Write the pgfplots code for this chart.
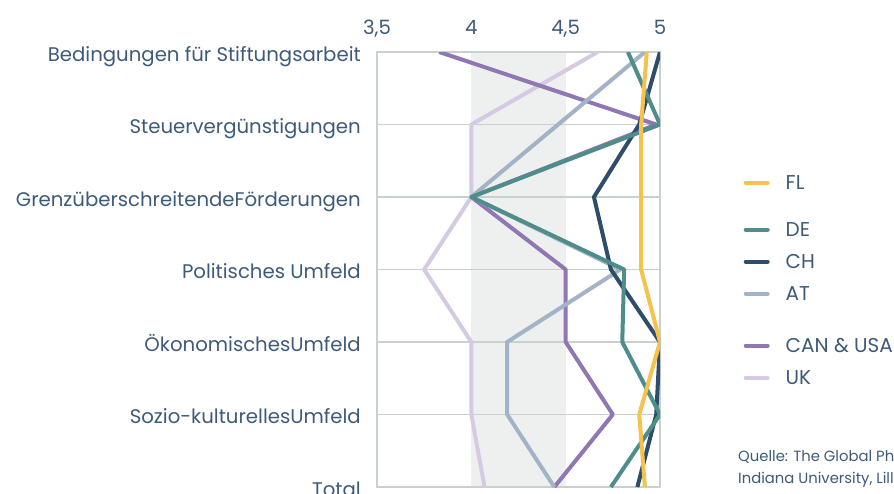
\documentclass[border=0pt]{standalone}
\usepackage{fontspec}
\setmainfont{Poppins}
\usepackage{pgfplots}
\pgfplotsset{compat=1.18}
\definecolor{FLc}{HTML}{F4C24D}
\definecolor{DEc}{HTML}{4E8D89}
\definecolor{CHc}{HTML}{2E4D6B}
\definecolor{ATc}{HTML}{A2B3C7}
\definecolor{CANc}{HTML}{8E77B2}
\definecolor{UKc}{HTML}{D5CAE3}
\definecolor{bandc}{HTML}{EEF0EF}
\definecolor{gridc}{HTML}{C9D1CC}
\definecolor{txt}{HTML}{3D5A78}
\begin{document}
\begin{tikzpicture}
\begin{axis}[
  set layers,
  scale only axis, width=283pt, height=435pt,
  xmin=3.5, xmax=5, ymin=0, ymax=6, y dir=reverse,
  enlargelimits=false, clip=true, clip mode=individual,
  xtick={3.5,4,4.5,5}, xticklabel pos=upper,
  /pgf/number format/use comma, /pgf/number format/assume math mode=true,
  ytick={0,...,6},
  yticklabels={Bedingungen für Stiftungsarbeit, Steuervergünstigungen, GrenzüberschreitendeFörderungen, Politisches Umfeld, ÖkonomischesUmfeld, Sozio-kulturellesUmfeld, Total},
  major tick length=0pt,
  ymajorgrids, grid style={gridc, line width=1.5pt},
  axis line style={gridc, line width=1.5pt},
  tick label style={font=\fontsize{19.7}{19.7}\selectfont, text=txt},
  xticklabel style={anchor=base, yshift=18pt, inner sep=0pt},
  yticklabel style={anchor=base east, xshift=-16pt, yshift=-9pt, inner sep=0pt},
  every axis plot/.append style={line width=4pt, line join=round},
  legend image code/.code={\draw[#1, line width=4pt, line cap=round] (0pt,0pt) -- (22pt,0pt);},
  legend cell align=left,
  legend style={draw=none, fill=none, inner sep=0pt, at={(axis description cs:1.2951,0.7218)}, anchor=north west,
    font=\fontsize{20}{20}\selectfont, text=txt, row sep=13pt, column sep=16pt,
    nodes={inner sep=0pt, text height=16pt, text depth=3pt}},
]
\addplot[fill=bandc, draw=none, line width=0pt, on layer=axis background, forget plot] coordinates {(4,0) (4.5,0) (4.5,6) (4,6)} -- cycle;

\addlegendimage{FLc}\addlegendentry{FL}
\addlegendimage{empty legend}\addlegendentry[text height=2pt, text depth=0pt]{}
\addlegendimage{DEc}\addlegendentry{DE}
\addlegendimage{CHc}\addlegendentry{CH}
\addlegendimage{ATc}\addlegendentry{AT}
\addlegendimage{empty legend}\addlegendentry[text height=7pt, text depth=0pt]{}
\addlegendimage{CANc}\addlegendentry{CAN \& USA}
\addlegendimage{UKc}\addlegendentry{UK}

% UK
\addplot[UKc, forget plot] coordinates {(4.67,0) (4.0,1) (4.0,2) (3.75,3) (4.0,4) (4.0,5) (4.07,6)};
% CAN & USA
\addplot[CANc, forget plot] coordinates {(3.83,0) (4.98,1) (4.0,2) (4.5,3) (4.5,4) (4.75,5) (4.44,6)};
% AT
\addplot[ATc, forget plot] coordinates {(4.92,0) (4.46,1) (4.0,2) (4.79,3) (4.19,4) (4.19,5) (4.44,6)};
% CH
\addplot[CHc, forget plot] coordinates {(5.0,0) (4.89,1) (4.65,2) (4.74,3) (5.0,4) (4.98,5) (4.88,6)};
% DE
\addplot[DEc, forget plot] coordinates {(4.83,0) (5.0,1) (4.0,2) (4.81,3) (4.80,4) (5.0,5) (4.74,6)};
% FL
\addplot[FLc, forget plot] coordinates {(4.93,0) (4.9,1) (4.9,2) (4.9,3) (5.0,4) (4.89,5) (4.92,6)};

\node[anchor=base west, inner sep=0pt, align=left, text=txt, font=\fontsize{14.8}{21.5}\selectfont]
  at (axis description cs:1.2756,0.0092) {Quelle: The Global Philanthropy Environment Index\\Indiana University, Lilly Family School of Philanthropy};
\end{axis}
\pgfresetboundingbox
\path[use as bounding box] (-377pt,-6pt) rectangle (517pt,487pt);
\end{tikzpicture}
\end{document}
